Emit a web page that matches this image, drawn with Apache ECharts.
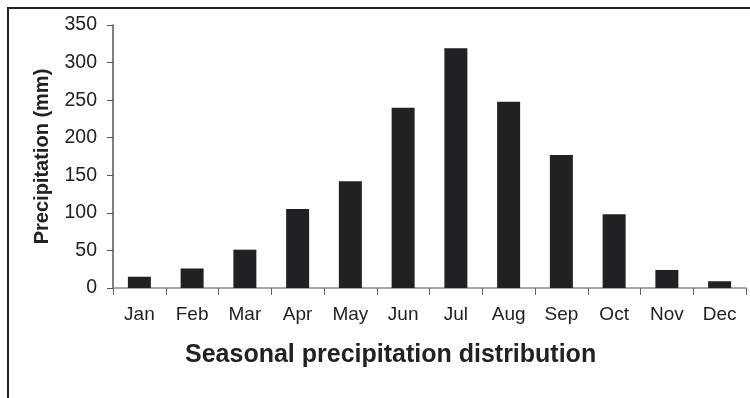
<!DOCTYPE html>
<html>
<head>
<meta charset="utf-8">
<script src="https://cdn.jsdelivr.net/npm/echarts@6/dist/echarts.min.js"></script>
<style>html,body{margin:0;padding:0;background:#fff;}#c{width:750px;height:398px;}</style>
</head>
<body>
<div id="c"></div>
<script>
const months = ['Jan','Feb','Mar','Apr','May','Jun','Jul','Aug','Sep','Oct','Nov','Dec'];
const precipitation = [15, 26, 51, 105, 142, 240, 319, 248, 177, 98, 24, 9];
const yTicks = { min: 0, max: 350, interval: 50 };
const titleText = 'Seasonal precipitation distribution';
const yName = 'Precipitation (mm)';

const FONT = '"Liberation Sans", Arial, sans-serif';
const chart = echarts.init(document.getElementById('c'), null, {renderer: 'canvas'});
chart.setOption({
  animation: false,
  backgroundColor: '#fff',
  title: {
    text: titleText,
    left: 185, top: 343, padding: 0,
    textStyle: {fontFamily: FONT, fontSize: 25, fontWeight: 'bold', color: '#222'}
  },
  grid: {left: 113, right: 4, top: 25, bottom: 110, containLabel: false},
  graphic: [{
    type: 'rect', silent: true,
    shape: {x: 8, y: 8, width: 900, height: 600},
    style: {fill: 'none', stroke: '#222', lineWidth: 2}
  }],
  xAxis: {
    type: 'category', data: months, boundaryGap: true,
    axisLine: {lineStyle: {color: '#8a8a8a', width: 1.5}},
    axisTick: {show: true, alignWithLabel: false, length: 7, lineStyle: {color: '#666'}},
    axisLabel: {fontFamily: FONT, fontSize: 19, color: '#222', margin: 17}
  },
  yAxis: {
    type: 'value', min: yTicks.min, max: yTicks.max, interval: yTicks.interval,
    name: yName, nameLocation: 'middle', nameGap: 61, nameRotate: 90,
    nameTextStyle: {fontFamily: FONT, fontSize: 20, fontWeight: 'bold', color: '#222'},
    axisLine: {show: true, lineStyle: {color: '#555', width: 1.5}},
    axisTick: {show: true, length: 6, lineStyle: {color: '#555'}},
    splitLine: {show: false},
    axisLabel: {fontFamily: FONT, fontSize: 19.5, color: '#222', margin: 16}
  },
  series: [{
    type: 'bar', data: precipitation, barWidth: 23,
    itemStyle: {color: '#202122'}
  }]
});
</script>
</body>
</html>
